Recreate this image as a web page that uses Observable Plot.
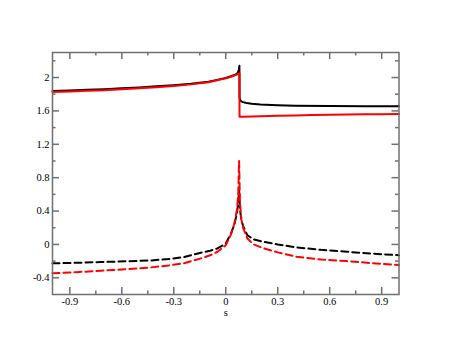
<!DOCTYPE html>
<html>
<head>
<meta charset="utf-8">
<script src="https://cdn.jsdelivr.net/npm/d3@7"></script>
<script src="https://cdn.jsdelivr.net/npm/@observablehq/plot@0.6"></script>
<style>
  html, body { margin: 0; padding: 0; background: #fff; }
  #chart svg text { font-family: "Liberation Serif", "Times New Roman", "DejaVu Serif", serif !important; font-size: 10.5px !important; }
</style>
</head>
<body>
<div id="chart"></div>
<script>
// ---- data ----
const xMajorTicks = [-0.9, -0.6, -0.3, 0, 0.3, 0.6, 0.9];
const xMinorTicks = [-0.75, -0.45, -0.15, 0.15, 0.45, 0.75];
const yMajorTicks = [-0.4, 0, 0.4, 0.8, 1.2, 1.6, 2];
const yMinorTicks = [-0.2, 0.2, 0.6, 1.0, 1.4, 1.8, 2.2];
const xAxisLabel = "s";

const sBlackSolid = [-1, -0.9, -0.8, -0.7, -0.6, -0.5, -0.4, -0.3, -0.2, -0.1, -0.05, 0, 0.03, 0.05, 0.06, 0.068, 0.073, 0.076, 0.078, 0.079, 0.0795, 0.083, 0.09, 0.1, 0.12, 0.15, 0.2, 0.3, 0.4, 0.6, 0.8, 1.0];
const yBlackSolid = [1.840, 1.846, 1.853, 1.861, 1.872, 1.882, 1.895, 1.908, 1.925, 1.950, 1.972, 1.995, 2.015, 2.030, 2.040, 2.055, 2.075, 2.100, 2.130, 2.140, 1.760, 1.730, 1.715, 1.705, 1.695, 1.685, 1.677, 1.668, 1.663, 1.659, 1.657, 1.656];

const sRedSolid = [-1, -0.9, -0.8, -0.7, -0.6, -0.5, -0.4, -0.3, -0.2, -0.1, -0.05, 0, 0.03, 0.05, 0.06, 0.07, 0.079, 0.0795, 0.1, 0.2, 0.3, 0.4, 0.5, 0.6, 0.7, 0.8, 0.9, 1.0];
const yRedSolid = [1.828, 1.834, 1.841, 1.849, 1.860, 1.871, 1.884, 1.899, 1.918, 1.944, 1.968, 1.990, 2.010, 2.025, 2.033, 2.042, 2.050, 1.530, 1.530, 1.535, 1.541, 1.546, 1.550, 1.554, 1.557, 1.559, 1.561, 1.563];

const sBlackDashed = [-1, -0.86, -0.72, -0.58, -0.43, -0.33, -0.24, -0.144, -0.09, -0.048, 0, 0.03, 0.05, 0.065, 0.072, 0.077, 0.082, 0.09, 0.1, 0.125, 0.16, 0.22, 0.3, 0.41, 0.55, 0.7, 0.85, 1.0];
const yBlackDashed = [-0.227, -0.220, -0.211, -0.203, -0.192, -0.175, -0.150, -0.100, -0.075, -0.048, 0.010, 0.130, 0.240, 0.380, 0.500, 0.650, 0.420, 0.300, 0.220, 0.110, 0.060, 0.030, 0.000, -0.036, -0.065, -0.088, -0.110, -0.130];

const sRedDashed = [-1, -0.86, -0.72, -0.58, -0.43, -0.33, -0.24, -0.144, -0.09, -0.048, 0, 0.03, 0.05, 0.065, 0.072, 0.077, 0.082, 0.09, 0.1, 0.125, 0.16, 0.22, 0.3, 0.41, 0.55, 0.7, 0.85, 1.0];
const yRedDashed = [-0.346, -0.332, -0.315, -0.297, -0.275, -0.252, -0.225, -0.167, -0.130, -0.088, -0.010, 0.120, 0.250, 0.420, 0.600, 1.000, 0.500, 0.300, 0.200, 0.070, 0.000, -0.048, -0.095, -0.148, -0.180, -0.200, -0.225, -0.247];

// ---- layout ----
const W = 449, H = 347;
const mL = 52, mR = 50.5, mT = 52, mB = 53;
const frameH = H - mT - mB;
const frameW = W - mL - mR;
const majorLen = 7, minorLen = 3.5;
const axisColor = "#707070";
const serif = "Liberation Serif";

const toRows = (xs, ys) => xs.map((x, i) => ({x, y: ys[i]}));
const fmt = d => String(d);

const chart = Plot.plot({
  width: W,
  height: H,
  marginLeft: mL,
  marginRight: mR,
  marginTop: mT,
  marginBottom: mB,
  style: {fontFamily: serif, fontSize: "10.5px", color: "#000", background: "#fff"},
  x: {domain: [-1, 1]},
  y: {domain: [-0.6, 2.3]},
  marks: [
    // tick labels
    Plot.axisX({anchor: "bottom", ticks: xMajorTicks, tickSize: 0, tickPadding: 3, tickFormat: fmt, label: null, fill: "#000", fontFamily: serif}),
    Plot.axisY({anchor: "left", ticks: yMajorTicks, tickSize: 0, tickPadding: 3, tickFormat: fmt, label: null, fill: "#000", fontFamily: serif}),
    Plot.text([xAxisLabel], {frameAnchor: "bottom", dy: 21, fill: "#000", fontFamily: serif}),
    // inward ticks: bottom / top
    Plot.ruleX(xMajorTicks, {x: d => d, insetTop: frameH - majorLen, stroke: axisColor, strokeWidth: 1.5}),
    Plot.ruleX(xMajorTicks, {x: d => d, insetBottom: frameH - majorLen, stroke: axisColor, strokeWidth: 1.5}),
    Plot.ruleX(xMinorTicks, {x: d => d, insetTop: frameH - minorLen, stroke: axisColor, strokeWidth: 1.5}),
    Plot.ruleX(xMinorTicks, {x: d => d, insetBottom: frameH - minorLen, stroke: axisColor, strokeWidth: 1.5}),
    // inward ticks: left / right
    Plot.ruleY(yMajorTicks, {y: d => d, insetRight: frameW - majorLen, stroke: axisColor, strokeWidth: 1.5}),
    Plot.ruleY(yMajorTicks, {y: d => d, insetLeft: frameW - majorLen, stroke: axisColor, strokeWidth: 1.5}),
    Plot.ruleY(yMinorTicks, {y: d => d, insetRight: frameW - minorLen, stroke: axisColor, strokeWidth: 1.5}),
    Plot.ruleY(yMinorTicks, {y: d => d, insetLeft: frameW - minorLen, stroke: axisColor, strokeWidth: 1.5}),
    // curves
    Plot.line(toRows(sBlackDashed, yBlackDashed), {x: "x", y: "y", stroke: "#000", strokeWidth: 2, strokeDasharray: "7,4"}),
    Plot.line(toRows(sRedDashed, yRedDashed), {x: "x", y: "y", stroke: "#ff0000", strokeWidth: 2, strokeDasharray: "7,4"}),
    Plot.line(toRows(sBlackSolid, yBlackSolid), {x: "x", y: "y", stroke: "#000", strokeWidth: 2}),
    Plot.line(toRows(sRedSolid, yRedSolid), {x: "x", y: "y", stroke: "#ff0000", strokeWidth: 2}),
    Plot.frame({stroke: axisColor, strokeWidth: 1.5})
  ]
});
document.getElementById("chart").appendChild(chart);
</script>
</body>
</html>
